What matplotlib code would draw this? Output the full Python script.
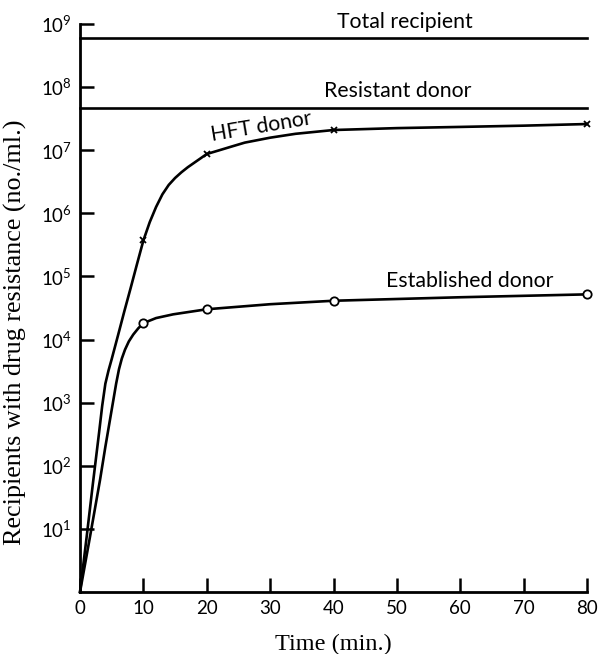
import matplotlib
matplotlib.use('Agg')
import matplotlib.pyplot as plt
from matplotlib.ticker import NullLocator

# ---------------- data ----------------
hft_curve_t = [0, 1, 2, 3, 3.5, 4, 4.5, 5, 6, 7, 8, 9, 10, 11, 12, 13, 14, 15, 16, 17,
               18, 19, 20, 22, 24, 26, 30, 34, 40, 50, 60, 70, 80]
hft_curve_y = [1, 6.8, 49, 330, 890, 2000, 3240, 4900, 11700, 28200, 66100, 158000,
               372000, 724000, 1.26e6, 2.0e6, 2.82e6, 3.63e6, 4.47e6, 5.37e6, 6.31e6,
               7.41e6, 8.71e6, 1.0e7, 1.15e7, 1.32e7, 1.58e7, 1.82e7, 2.09e7, 2.24e7,
               2.34e7, 2.45e7, 2.6e7]
hft_pts_t = [10, 20, 40, 80]
hft_pts_y = [3.72e5, 8.71e6, 2.09e7, 2.6e7]

est_curve_t = [0, 1.5, 3.15, 4, 5.26, 5.7, 6.15, 6.6, 7.1, 7.7, 8.4, 9.2, 10, 12, 14.7,
               20, 30, 40, 60, 80]
est_curve_y = [1, 6.8, 59, 200, 1100, 2000, 3390, 5010, 6920, 9330, 12000, 15100, 18200,
               21900, 25100, 30200, 36300, 41200, 46800, 52000]
est_pts_t = [10, 20, 40, 80]
est_pts_y = [1.82e4, 3.02e4, 4.12e4, 5.2e4]

total_recipient = 6.0e8
resistant_donor = 4.7e7

x_ticks = [0, 10, 20, 30, 40, 50, 60, 70, 80]
y_exponents = [1, 2, 3, 4, 5, 6, 7, 8, 9]

# ---------------- styling ----------------
plt.rcParams['font.family'] = ['Lato', 'DejaVu Sans']
plt.rcParams['mathtext.fontset'] = 'custom'
plt.rcParams['mathtext.rm'] = 'Lato'
plt.rcParams['mathtext.it'] = 'Lato:italic'
plt.rcParams['mathtext.bf'] = 'Lato:bold'

fig = plt.figure(figsize=(5.98, 6.54), dpi=100)
ax = fig.add_axes([0.1338, 0.0948, 0.8478, 0.8685])

lw = 1.9
ax.plot(hft_curve_t, hft_curve_y, color='black', lw=lw, clip_on=False, zorder=3,
        solid_joinstyle='round')
ax.plot(hft_pts_t, hft_pts_y, linestyle='none', marker='x', ms=4.5, mew=1.3,
        color='black', clip_on=False, zorder=4)
ax.plot(est_curve_t, est_curve_y, color='black', lw=lw, clip_on=False, zorder=3,
        solid_joinstyle='round')
ax.plot(est_pts_t, est_pts_y, linestyle='none', marker='o', ms=6, mew=1.3,
        mfc='white', mec='black', clip_on=False, zorder=4)
ax.plot([0, 80], [total_recipient, total_recipient], color='black', lw=lw, clip_on=False)
ax.plot([0, 80], [resistant_donor, resistant_donor], color='black', lw=lw, clip_on=False)

ax.set_yscale('log')
ax.set_xlim(0, 80)
ax.set_ylim(1, 1e9)
ax.set_xticks(x_ticks)
ax.set_xticklabels([str(v) for v in x_ticks])
ax.set_yticks([10.0 ** k for k in y_exponents])
ax.set_yticklabels(['$10^{%d}$' % k for k in y_exponents])
ax.yaxis.set_minor_locator(NullLocator())
ax.xaxis.set_minor_locator(NullLocator())

for s in ['top', 'right']:
    ax.spines[s].set_visible(False)
for s in ['left', 'bottom']:
    ax.spines[s].set_linewidth(2.0)

ax.tick_params(axis='both', direction='in', length=10, width=1.8, labelsize=13.5, pad=6)

ax.set_xlabel('Time (min.)', family='Liberation Serif', fontsize=17.5, labelpad=12)
ax.set_ylabel('Recipients with drug resistance (no./ml.)', family='Liberation Serif',
              fontsize=18.8)
ax.yaxis.set_label_coords(-0.104, 0.458)

ax.text(51.3, 8.7e8, 'Total recipient', ha='center', va='baseline', fontsize=15.3)
ax.text(50.2, 6.9e7, 'Resistant donor', ha='center', va='baseline', fontsize=15.3)
ax.text(28.6, 2.4e7, 'HFT donor', ha='center', va='center', fontsize=15.3, rotation=9.5)
ax.text(61.5, 6.8e4, 'Established donor', ha='center', va='baseline', fontsize=15.3)

fig.savefig('out.png', dpi=100)
